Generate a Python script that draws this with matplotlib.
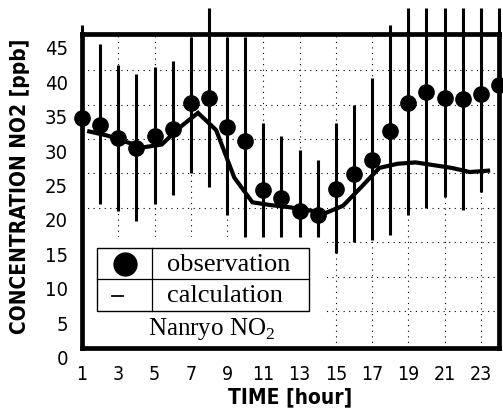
import os
import matplotlib
matplotlib.use("Agg")
import matplotlib.pyplot as plt
import matplotlib.transforms as mtransforms
import matplotlib.font_manager as fm
from matplotlib.patches import Rectangle
from matplotlib.lines import Line2D

plt.rcParams['mathtext.fontset'] = 'custom'
plt.rcParams['mathtext.rm'] = 'Liberation Serif'

# ---------------- data ----------------
hours = list(range(1, 25))
obs = [33.1, 32.0, 30.2, 28.7, 30.5, 31.5, 35.2, 35.9, 31.8, 29.7, 22.6, 21.4,
       19.5, 18.9, 22.8, 24.9, 26.9, 31.1, 35.2, 36.8, 36.0, 35.8, 36.5, 37.8]
obs_high = [46.5, 43.8, 40.8, 39.5, 40.5, 41.4, 44.8, 49.0, 44.8, 44.8, 32.4, 30.5,
            28.4, 26.9, 32.3, 35.0, 38.9, 46.5, 49.0, 49.0, 49.0, 49.0, 49.0, 49.0]
obs_low = [20.0, 20.5, 19.5, 18.1, 20.5, 21.9, 25.1, 23.0, 19.0, 15.7, 15.7, 15.7,
           15.7, 15.7, 13.5, 15.0, 15.3, 16.1, 19.0, 20.0, 21.6, 19.7, 22.3, 26.0]
calc_hours = [1.4, 2.4, 3.4, 4.4, 5.4, 6.4, 7.4, 8.4, 9.4, 10.4, 11.4, 12.4,
              13.4, 14.4, 15.4, 16.4, 17.4, 18.4, 19.4, 20.4, 21.4, 22.4, 23.4]
calc = [31.1, 30.5, 29.6, 28.8, 29.2, 31.7, 33.8, 31.3, 24.4, 20.8, 20.4, 20.1,
        19.7, 19.2, 20.3, 23.0, 25.8, 26.4, 26.6, 26.2, 25.8, 25.2, 25.4]
x_ticks = [1, 3, 5, 7, 9, 11, 13, 15, 17, 19, 21, 23]
y_ticks = [0, 5, 10, 15, 20, 25, 30, 35, 40, 45]


# ---------------- condensed font lookup ----------------
def find_font(patterns):
    files = [f.fname for f in fm.fontManager.ttflist]
    for p in patterns:
        for fn in files:
            if os.path.basename(fn).lower().replace(' ', '').startswith(p.lower()):
                return fn
    return None


bold_file = find_font(['LiberationSansNarrow-Bold.', 'DejaVuSansCondensed-Bold.',
                       'RobotoCondensed-Bold.', 'OpenSans_Condensed-Bold.',
                       'OpenSansCondensed-Bold.', 'OpenSans-CondBold.'])
reg_file = find_font(['LiberationSansNarrow-Regular.', 'DejaVuSansCondensed.',
                      'RobotoCondensed-Regular.', 'OpenSans_Condensed-Regular.',
                      'OpenSansCondensed-Regular.'])


def axis_font(size, bold):
    fn = bold_file if bold else reg_file
    if fn:
        return fm.FontProperties(fname=fn, size=size)
    return fm.FontProperties(family='Liberation Sans', weight='bold' if bold else 'normal',
                             size=size * 0.85)


# ---------------- figure ----------------
fig = plt.figure(figsize=(5.03, 4.10), dpi=100)
ax = fig.add_axes([0.1630, 0.150, 0.8300, 0.7646])
ax.set_xlim(1, 24.03)
ax.set_ylim(-0.3, 45.26)

# grid
for yv in [5, 10, 15, 20, 25, 30, 35, 40]:
    ax.axhline(yv, color='black', lw=0.8, ls=(0, (1, 4)), zorder=1)
for xv in [3, 5, 7, 9, 11, 13, 15, 17, 19, 21, 23]:
    ax.axvline(xv, color='black', lw=0.8, ls=(0, (1, 4)), zorder=1)

# white area behind legend
ax.add_patch(Rectangle((1, -0.3), 13.4, 16.0, facecolor='white', edgecolor='none', zorder=2))

# error bars
ax.vlines(hours, obs_low, obs_high, colors='black', lw=2.2, zorder=3, clip_on=False)
# calculation line
ax.plot(calc_hours, calc, color='black', lw=3.0, zorder=4, solid_joinstyle='miter')
# observation points
ax.plot(hours, obs, 'o', color='black', ms=11, zorder=5, clip_on=False)

# frame
for s in ax.spines.values():
    s.set_linewidth(3.4)
    s.set_zorder(6)

# ticks
ax.set_xticks(x_ticks)
ax.set_xticklabels([str(v) for v in x_ticks], fontproperties=axis_font(14, False))
ax.set_yticks(y_ticks)
ax.set_yticklabels([str(v) for v in y_ticks], fontproperties=axis_font(14.5, False))
ax.tick_params(axis='both', length=0)
ax.tick_params(axis='x', pad=12)
ax.tick_params(axis='y', pad=10)
offset = mtransforms.ScaledTranslation(0, -0.11, fig.dpi_scale_trans)
for lab in ax.get_yticklabels():
    lab.set_transform(lab.get_transform() + offset)

ax.set_xlabel('TIME [hour]', fontproperties=axis_font(15, True))
ax.xaxis.set_label_coords(0.498, -0.156)
ax.xaxis.label.set_verticalalignment('center')
ax.set_ylabel('CONCENTRATION NO2 [ppb]', fontproperties=axis_font(15, True))
ax.yaxis.set_label_coords(-0.1485, 0.5167)
ax.yaxis.label.set_verticalalignment('center')

# legend table
lx0, lx1, ldiv = 1.83, 13.52, 4.86
ly0, ymid, ly1 = 5.0, 9.65, 14.16
ax.add_patch(Rectangle((lx0, ly0), lx1 - lx0, ly1 - ly0, facecolor='white',
                       edgecolor='black', lw=1.0, zorder=7))
ax.add_line(Line2D([lx0, lx1], [ymid, ymid], color='black', lw=0.9, zorder=8))
ax.add_line(Line2D([ldiv, ldiv], [ly0, ly1], color='black', lw=0.9, zorder=8))
ax.plot([3.37], [11.85], 'o', color='black', ms=16.5, zorder=9)
ax.add_line(Line2D([2.68, 3.25], [7.2, 7.2], color='black', lw=1.3, zorder=9))
ax.text(5.69, 11.85, 'observation', family='Liberation Serif', size=19,
        ha='left', va='center', zorder=9)
ax.text(5.69, 7.3, 'calculation', family='Liberation Serif', size=19,
        ha='left', va='center', zorder=9)
ax.text(4.64, 2.6, r'Nanryo NO$_\mathrm{2}$', family='Liberation Serif', size=18,
        ha='left', va='center', zorder=9)

fig.savefig('out.png', dpi=100)
